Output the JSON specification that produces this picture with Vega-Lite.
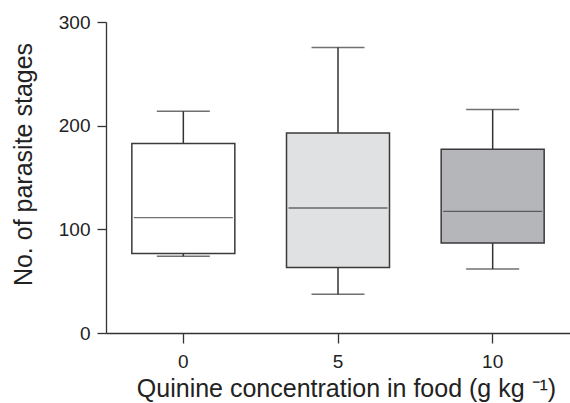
{
  "$schema": "https://vega.github.io/schema/vega-lite/v6.json",
  "autosize": "none",
  "width": 464,
  "height": 311,
  "padding": {"left": 106, "top": 22, "right": 0, "bottom": 70},
  "background": "white",
  "config": {
    "view": {"stroke": null},
    "font": "Liberation Sans",
    "axis": {"labelFont": "Liberation Sans", "titleFont": "Liberation Sans", "titleFontWeight": "normal", "labelColor": "#222", "titleColor": "#222", "domainColor": "#333", "tickColor": "#333", "domainWidth": 1.3, "tickWidth": 1.3, "grid": false}
  },
  "data": {
    "values": [
      {"conc": "0", "min": 74, "q1": 76.6, "median": 111.3, "q3": 182.7, "max": 213.9},
      {"conc": "5", "min": 37.3, "q1": 63.1, "median": 120.6, "q3": 192.9, "max": 275.3},
      {"conc": "10", "min": 61.7, "q1": 86.8, "median": 117.4, "q3": 177.2, "max": 215.5}
    ]
  },
  "encoding": {
    "x": {
      "field": "conc", "type": "nominal", "sort": ["0", "5", "10"],
      "scale": {"type": "band", "paddingInner": 0, "paddingOuter": 0},
      "axis": {"title": "Quinine concentration in food (g kg ⁻¹)", "labelAngle": 0, "labelFontSize": 19, "titleFontSize": 25, "tickSize": 10, "labelPadding": 9, "titlePadding": 5, "titleX": 240}
    }
  },
  "layer": [
    {
      "mark": {"type": "rule", "color": "#333", "strokeWidth": 1.5},
      "encoding": {
        "y": {"field": "min", "type": "quantitative", "scale": {"domain": [0, 300]}, "axis": {"title": "No. of parasite stages", "values": [0, 100, 200, 300], "labelFontSize": 19, "titleFontSize": 25, "tickSize": 9, "labelPadding": 7, "titlePadding": 22, "titleY": 142}},
        "y2": {"field": "max"}
      }
    },
    {
      "mark": {"type": "tick", "color": "#333", "size": 53, "thickness": 1.5},
      "encoding": {"y": {"field": "min", "type": "quantitative"}}
    },
    {
      "mark": {"type": "tick", "color": "#333", "size": 53, "thickness": 1.5},
      "encoding": {"y": {"field": "max", "type": "quantitative"}}
    },
    {
      "mark": {"type": "bar", "size": 103, "stroke": "#3a3a3a", "strokeWidth": 1.5},
      "encoding": {
        "y": {"field": "q1", "type": "quantitative"},
        "y2": {"field": "q3"},
        "fill": {"field": "conc", "type": "nominal", "scale": {"domain": ["0", "5", "10"], "range": ["#ffffff", "#e0e1e3", "#b5b6b9"]}, "legend": null}
      }
    },
    {
      "mark": {"type": "tick", "color": "#333", "size": 99, "thickness": 1.3},
      "encoding": {"y": {"field": "median", "type": "quantitative"}}
    }
  ]
}
